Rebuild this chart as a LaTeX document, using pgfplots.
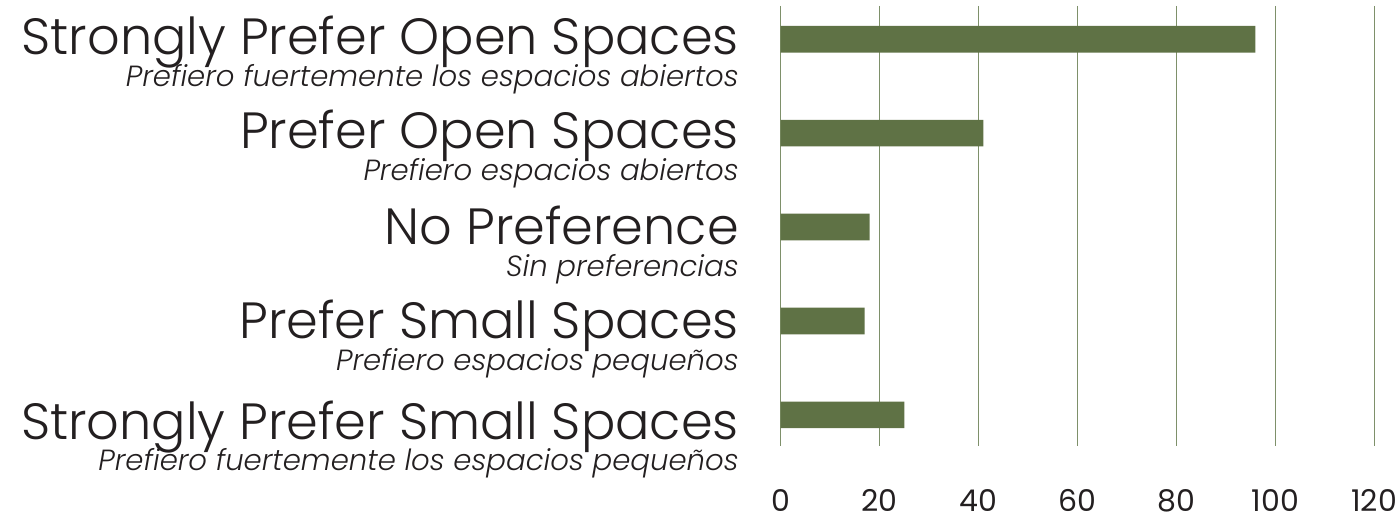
\documentclass[border=0pt]{standalone}
\usepackage{fontspec}
\setmainfont{Poppins}[UprightFont={* Light}, ItalicFont={* Light Italic}]
\newfontfamily\tickfont{Poppins}
\usepackage{pgfplots}
\pgfplotsset{compat=1.18}

\definecolor{bargreen}{RGB}{95,114,69}
\definecolor{gridgreen}{RGB}{126,144,106}
\definecolor{txt}{RGB}{35,31,32}

% main English label with the Spanish line hanging below it, right aligned
\newcommand{\lab}[2]{{\fontsize{25.5}{25.5}\selectfont #1}\llap{\raisebox{-16pt}[0pt][0pt]{\fontsize{14.6}{14.6}\selectfont\itshape #2}}}

\begin{document}
\begin{tikzpicture}
\begin{axis}[
  name=ax,
  scale only axis,
  width=297.1pt,
  height=220.25pt,
  xbar,
  bar width=13.35pt,
  xmin=0, xmax=120,
  ymin=0.646, ymax=5.332,
  y dir=reverse,
  xtick={0,20,...,120},
  ytick={1,2,3,4,5},
  yticklabels={
    {\lab{Strongly Prefer Open Spaces}{Prefiero fuertemente los espacios abiertos}},
    {\lab{Prefer Open Spaces}{Prefiero espacios abiertos}},
    {\raisebox{-1.2pt}{\lab{No Preference}{Sin preferencias}}},
    {\raisebox{-1.3pt}{\lab{Prefer Small Spaces}{Prefiero espacios pequeños}}},
    {\raisebox{-4.5pt}{\lab{Strongly Prefer Small Spaces}{Prefiero fuertemente los espacios pequeños}}}
  },
  xmajorgrids,
  ymajorgrids=false,
  grid style={gridgreen, line width=0.65pt},
  axis line style={draw=none},
  major tick length=0pt,
  tick style={draw=none},
  /pgf/number format/assume math mode=true,
  ticklabel style={text=txt, inner sep=0pt},
  xticklabel style={font=\tickfont\fontsize{15}{15}\selectfont, anchor=base, yshift=-33pt},
  yticklabel style={anchor=base east, xshift=-20.75pt, yshift=-7.6pt},
  clip=false
]
\addplot[fill=bargreen, draw=none] coordinates {(96,1) (41,2) (18,3) (17,4) (25,5)};
\end{axis}
\path[use as bounding box] ([shift={(-390.75pt,-42.25pt)}]ax.south west) rectangle ([shift={(10.65pt,3pt)}]ax.north east);
\end{tikzpicture}
\end{document}
